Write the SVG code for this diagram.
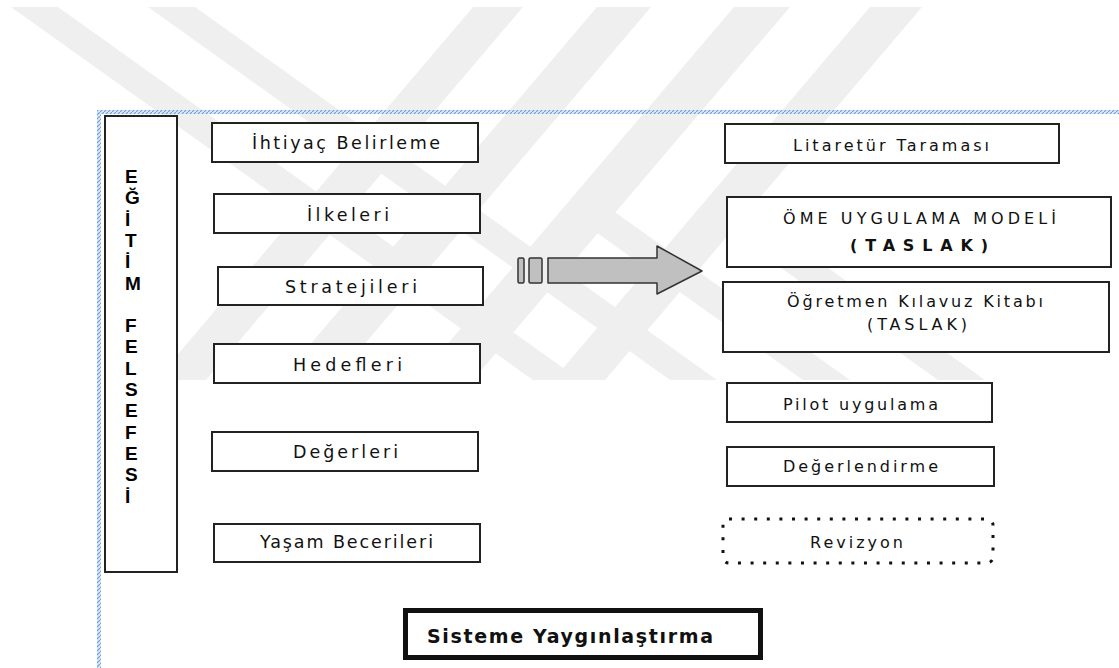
<svg xmlns="http://www.w3.org/2000/svg" width="1119" height="668" viewBox="0 0 1119 668">
<defs>
<pattern id="hatch" width="4" height="4" patternUnits="userSpaceOnUse">
<rect width="4" height="4" fill="#dbe8f7"/>
<path d="M0,4 L4,0" stroke="#6b9bdb" stroke-width="1.1"/>
</pattern>
</defs>
<style>
.box{fill:#fff;stroke:#222;stroke-width:2}
.lt{font-family:"DejaVu Sans","Liberation Sans",sans-serif;font-size:17.5px;fill:#111;text-anchor:middle}
.rt{font-family:"DejaVu Sans","Liberation Sans",sans-serif;font-size:16px;fill:#111;text-anchor:middle}
.vt{font-family:"Liberation Sans",Arial,sans-serif;font-size:19px;font-weight:bold;fill:#000}
.wm{fill:#efefef}
</style>
<rect width="1119" height="668" fill="#fff"/>
<g id="watermark">
<polygon class="wm" points="473,7 523,7 206,380 156,380"/>
<polygon class="wm" points="597,7 651,7 334,380 280,380"/>
<polygon class="wm" points="734,7 790,7 473,380 417,380"/>
<polygon class="wm" points="870,7 922,7 605,380 553,380"/>
<polygon class="wm" points="11,7 58,7 580,380 533,380"/>
<polygon class="wm" points="148,7 195,7 717,380 670,380"/>
<polygon class="wm" points="565,210 612,210 850,380 803,380"/>
<polygon class="wm" points="700,210 747,210 985,380 938,380"/>
</g>
<rect id="frame" x="99" y="112" width="1030" height="570" fill="none" stroke="url(#hatch)" stroke-width="4"/>
<g id="egitim-felsefesi">
<rect class="box" x="105" y="116" width="72" height="456"/>
<text class="vt" x="125" y="183">E</text>
<text class="vt" x="125" y="204.3">Ğ</text>
<text class="vt" x="125" y="225.6">İ</text>
<text class="vt" x="125" y="246.9">T</text>
<text class="vt" x="125" y="268.2">İ</text>
<text class="vt" x="125" y="289.5">M</text>
<text class="vt" x="125" y="332.1">F</text>
<text class="vt" x="125" y="353.4">E</text>
<text class="vt" x="125" y="374.7">L</text>
<text class="vt" x="125" y="396">S</text>
<text class="vt" x="125" y="417.3">E</text>
<text class="vt" x="125" y="438.6">F</text>
<text class="vt" x="125" y="459.9">E</text>
<text class="vt" x="125" y="481.2">S</text>
<text class="vt" x="125" y="502.5">İ</text>
</g>
<g id="ihtiyac"><rect class="box" x="212" y="123" width="266" height="39"/><text class="lt" x="346" y="149" textLength="188" lengthAdjust="spacing">İhtiyaç Belirleme</text></g>
<g id="ilkeleri"><rect class="box" x="214" y="194" width="266" height="39"/><text class="lt" x="348" y="221" textLength="82" lengthAdjust="spacing">İlkeleri</text></g>
<g id="stratejileri"><rect class="box" x="218" y="267" width="265" height="38"/><text class="lt" x="351" y="293" textLength="132" lengthAdjust="spacing">Stratejileri</text></g>
<g id="hedefleri"><rect class="box" x="214" y="344" width="266" height="39"/><text class="lt" x="347.5" y="371" textLength="109" lengthAdjust="spacing">Hedefleri</text></g>
<g id="degerleri"><rect class="box" x="212" y="432" width="266" height="39"/><text class="lt" x="345.5" y="458" textLength="105" lengthAdjust="spacing">Değerleri</text></g>
<g id="yasam"><rect class="box" x="214" y="524" width="266" height="38"/><text class="lt" x="346.5" y="548" textLength="173" lengthAdjust="spacing">Yaşam Becerileri</text></g>
<g id="connectors">
<rect x="518" y="258" width="6" height="25" rx="1.5" fill="#c0c0c0" stroke="#333" stroke-width="1.5"/>
<rect x="529" y="258" width="13" height="25" rx="1.5" fill="#c0c0c0" stroke="#333" stroke-width="1.5"/>
<polygon points="548,258 657,258 657,246 702,271 657,294 657,283 548,283" fill="#c0c0c0" stroke="#333" stroke-width="1.5" stroke-linejoin="round"/>
</g>
<g id="litaretur"><rect class="box" x="725" y="124" width="334" height="39"/><text class="rt" x="891" y="151" textLength="196" lengthAdjust="spacing">Litaretür Taraması</text></g>
<g id="ome"><rect class="box" x="727" y="197" width="384" height="70"/><text class="rt" x="919.5" y="224" font-size="17" textLength="273" lengthAdjust="spacing">ÖME UYGULAMA MODELİ</text><text class="rt" x="919" y="251" font-size="21" font-weight="bold" textLength="138" lengthAdjust="spacing">(TASLAK)</text></g>
<g id="ogretmen"><rect class="box" x="723" y="282" width="386" height="70"/><text class="rt" x="915" y="307" font-size="17" textLength="256" lengthAdjust="spacing">Öğretmen Kılavuz Kitabı</text><text class="rt" x="917" y="330" font-size="17" textLength="100" lengthAdjust="spacing">(TASLAK)</text></g>
<g id="pilot"><rect class="box" x="727" y="383" width="265" height="39"/><text class="rt" x="860.5" y="410" textLength="155" lengthAdjust="spacing">Pilot uygulama</text></g>
<g id="degerlendirme"><rect class="box" x="727" y="447" width="267" height="39"/><text class="rt" x="860.5" y="472" textLength="155" lengthAdjust="spacing">Değerlendirme</text></g>
<g id="revizyon"><rect x="723" y="519" width="270" height="44" rx="6" fill="#fff" stroke="#111" stroke-width="3" stroke-dasharray="3 9.6"/><text class="rt" x="856.5" y="548" textLength="93" lengthAdjust="spacing">Revizyon</text></g>
<g id="sisteme"><rect x="405.5" y="610.5" width="355" height="47" fill="#fff" stroke="#111" stroke-width="5"/><text x="570" y="643" font-family="'DejaVu Sans','Liberation Sans',sans-serif" font-size="19" font-weight="bold" fill="#111" text-anchor="middle" textLength="286" lengthAdjust="spacing">Sisteme Yaygınlaştırma</text></g>
</svg>
